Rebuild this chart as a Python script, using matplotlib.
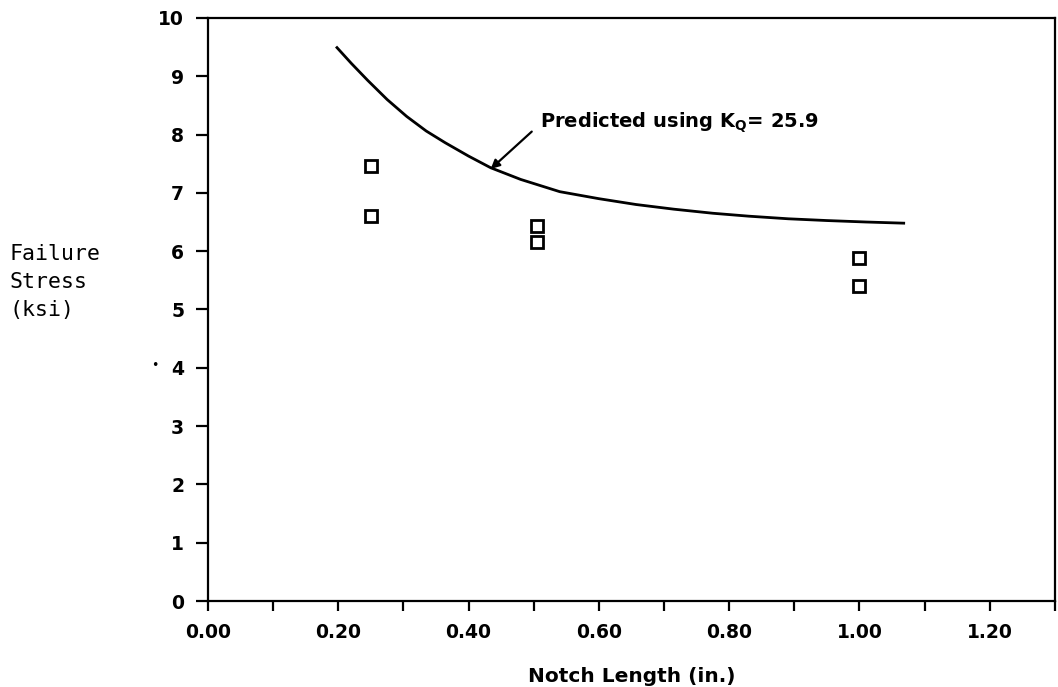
import matplotlib
matplotlib.use("Agg")
import matplotlib.pyplot as plt
from matplotlib.ticker import MultipleLocator

# measured failure stress (ksi) vs notch length (in.)
notch = [0.25, 0.25, 0.505, 0.505, 1.0, 1.0]
stress = [7.46, 6.60, 6.43, 6.16, 5.88, 5.40]

# predicted curve, K_Q = 25.9
pred_x = [0.198, 0.22, 0.245, 0.275, 0.305, 0.335, 0.364, 0.40, 0.434, 0.48, 0.54,
          0.60, 0.657, 0.715, 0.775, 0.83, 0.891, 0.95, 1.01, 1.068]
pred_y = [9.49, 9.22, 8.93, 8.60, 8.31, 8.06, 7.86, 7.63, 7.43, 7.23, 7.02,
          6.90, 6.80, 6.72, 6.65, 6.60, 6.555, 6.525, 6.50, 6.48]

xticks = [0.0, 0.2, 0.4, 0.6, 0.8, 1.0, 1.2]
xlabels = ["0.00", "0.20", "0.40", "0.60", "0.80", "1.00", "1.20"]
yticks = list(range(0, 11))

fig = plt.figure(figsize=(10.58, 6.87), dpi=100)
ax = fig.add_axes([0.1966, 0.125, 0.8004, 0.849])

ax.plot(pred_x, pred_y, color="black", lw=2.0, solid_joinstyle="round")
ax.plot(notch, stress, ls="none", marker="s", ms=9, mfc="white", mec="black", mew=2.0)

# label + leader arrow
ax.text(0.509, 8.2, "Predicted using K$_\\mathbf{Q}$= 25.9", fontsize=14, fontweight="bold",
        family=["Liberation Sans Narrow", "DejaVu Sans"], va="center", ha="left")
ax.annotate("", xy=(0.434, 7.41), xytext=(0.497, 8.05),
            arrowprops=dict(arrowstyle="-|>", color="black", lw=1.6, shrinkA=0, shrinkB=0,
                            mutation_scale=13))

ax.set_xlim(0, 1.3)
ax.set_ylim(0, 10)
ax.set_xticks(xticks)
ax.set_xticklabels(xlabels)
ax.xaxis.set_minor_locator(MultipleLocator(0.1))
ax.set_yticks(yticks)
ax.tick_params(axis="both", which="both", direction="out", width=1.6, color="black")
ax.tick_params(axis="x", which="both", length=7.2, pad=8.6, labelsize=13.5)
ax.tick_params(axis="y", length=8.6, pad=8.6, labelsize=13.5)
for lab in ax.get_xticklabels() + ax.get_yticklabels():
    lab.set_fontweight("bold")
for s in ax.spines.values():
    s.set_linewidth(1.6)

ax.set_xlabel("Notch Length (in.)", fontsize=14.5, fontweight="bold", labelpad=18)

fig.text(0.009, 0.5895, "Failure\nStress\n(ksi)", family="DejaVu Sans Mono", fontsize=15.5,
         va="center", ha="left", linespacing=1.5)
fig.text(0.1465, 0.4687, "\u2022", fontsize=9, va="center", ha="center")

fig.savefig("out.png", dpi=100)
